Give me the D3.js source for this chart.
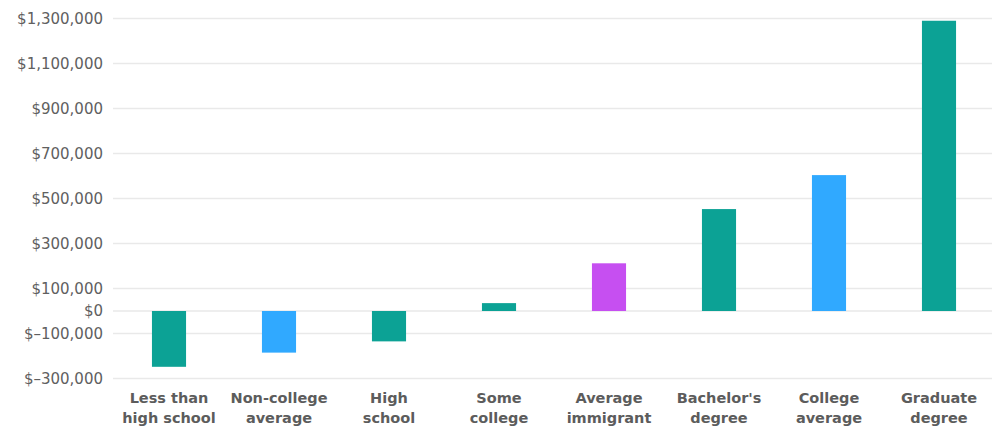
<!DOCTYPE html>
<html>
  <head>
    <meta charset="utf-8">
    <title>Net fiscal impact by education</title>
    <script src="https://d3js.org/d3.v7.min.js"></script>
    <style>
      body { margin: 0; background: #fff; }
      .tick-label { font-family: "DejaVu Sans", sans-serif; font-size: 15px; fill: #606060; }
      .cat-label { font-family: "DejaVu Sans", sans-serif; font-size: 14.5px; font-weight: 600; fill: #5c5c5c; }
    </style>
  </head>
  <body>
    <div id="chart"></div>
    <script>
      // data
      var categories = [
        ["Less than", "high school"],
        ["Non-college", "average"],
        ["High", "school"],
        ["Some", "college"],
        ["Average", "immigrant"],
        ["Bachelor's", "degree"],
        ["College", "average"],
        ["Graduate", "degree"]
      ];
      var values = [-248000, -185000, -135000, 35000, 212000, 453000, 604000, 1290000];
      var groups = ["edu", "avg", "edu", "edu", "imm", "edu", "avg", "edu"];
      var tickValues = [1300000, 1100000, 900000, 700000, 500000, 300000, 100000, 0, -100000, -300000];

      var w = 992, h = 430;
      var colors = { edu: "#0ca295", avg: "#30a9ff", imm: "#c64ff1" };

      var svg = d3.select("#chart").append("svg")
        .attr("width", w)
        .attr("height", h);

      var y = d3.scaleLinear()
        .domain([-300000, 1300000])
        .range([378.5, 18.5]);

      var x = d3.scaleBand()
        .domain(d3.range(categories.length))
        .range([114, 994])
        .paddingInner(0.69)
        .paddingOuter(0.345);

      // gridlines
      svg.append("g").selectAll("line")
        .data(tickValues)
        .enter().append("line")
        .attr("x1", 113)
        .attr("x2", w)
        .attr("y1", function(d) { return y(d); })
        .attr("y2", function(d) { return y(d); })
        .attr("stroke", "#e9e9e9")
        .attr("stroke-width", 1.5);

      var fmt = function(d) {
        if (d < 0) return "$\u2013" + d3.format(",")(-d);
        return "$" + d3.format(",")(d);
      };

      // y axis labels
      svg.append("g").selectAll("text")
        .data(tickValues)
        .enter().append("text")
        .attr("class", "tick-label")
        .attr("x", 103)
        .attr("y", function(d) { return y(d); })
        .attr("dy", "0.36em")
        .attr("text-anchor", "end")
        .text(fmt);

      // bars
      svg.append("g").selectAll("rect")
        .data(values)
        .enter().append("rect")
        .attr("x", function(d, i) { return x(i); })
        .attr("width", x.bandwidth())
        .attr("y", function(d) { return y(Math.max(0, d)); })
        .attr("height", function(d) { return Math.abs(y(d) - y(0)); })
        .attr("fill", function(d, i) { return colors[groups[i]]; });

      // category labels
      var cat = svg.append("g").selectAll("text")
        .data(categories)
        .enter().append("text")
        .attr("class", "cat-label")
        .attr("text-anchor", "middle")
        .attr("x", function(d, i) { return x(i) + x.bandwidth() / 2; })
        .attr("y", 403);

      cat.selectAll("tspan")
        .data(function(d) { return d; })
        .enter().append("tspan")
        .attr("x", function() { return d3.select(this.parentNode).attr("x"); })
        .attr("dy", function(d, i) { return i === 0 ? 0 : 20; })
        .text(function(d) { return d; });
    </script>
  </body>
</html>
